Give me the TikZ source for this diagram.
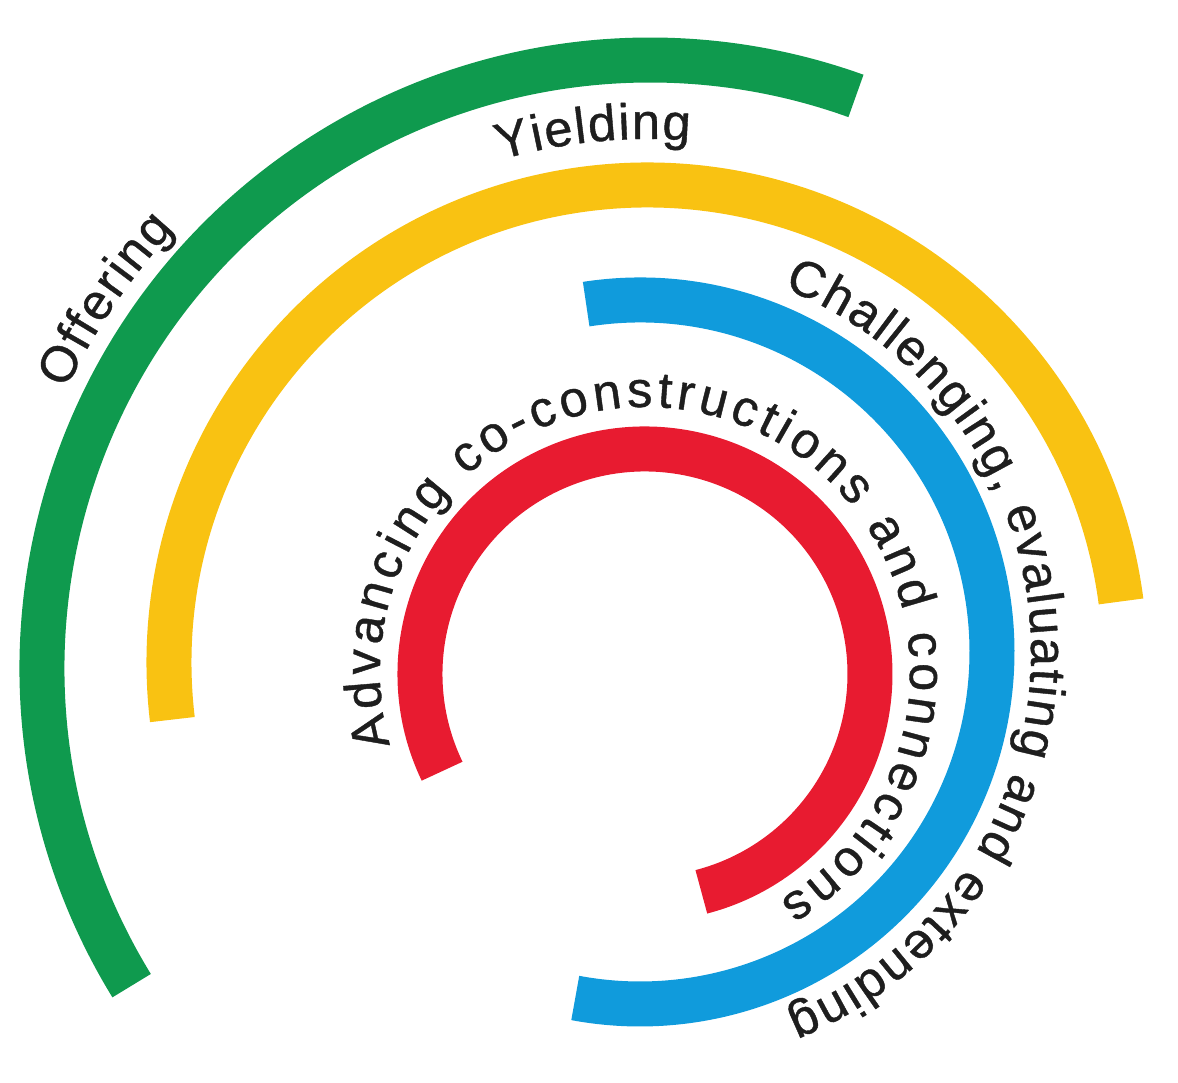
\documentclass[tikz,border=0pt]{standalone}
\usepackage{fontspec}
\setmainfont{Liberation Sans}[FakeBold=0.8]
\usetikzlibrary{decorations.text}

\definecolor{ringgreen}{HTML}{0F9A4E}
\definecolor{ringyellow}{HTML}{F9C212}
\definecolor{ringblue}{HTML}{109BDC}
\definecolor{ringred}{HTML}{E81B30}
\definecolor{ink}{HTML}{1E1E1E}
\newcommand\ringfont{\fontsize{14.4}{17}\selectfont\color{ink}}

\begin{document}
\begin{tikzpicture}[ring/.style={line width=0.45cm},
                    ringtext/.style={decorate,decoration={text along path,
                      text align=fit to path,text={|\ringfont|#1}}}]
  \useasboundingbox (0,0) rectangle (11.78,10.83);

  % centres of the rings
  \coordinate (cg) at (6.50,4.15);
  \coordinate (cy) at (6.47,4.20);
  \coordinate (cb) at (6.40,4.31);
  \coordinate (cr) at (6.45,4.09);
  \coordinate (ca) at (6.45,4.11);

  \draw[ring,ringgreen]  ([shift={(211.5:6.08)}]cg) arc[start angle=211.5,end angle=70.2,radius=6.08];
  \draw[ring,ringyellow] ([shift={(186.8:4.78)}]cy) arc[start angle=186.8,end angle=7.4,radius=4.78];
  \draw[ring,ringblue]   ([shift={(98.8:3.52)}]cb)  arc[start angle=98.8,end angle=-100.6,radius=3.52];
  \draw[ring,ringred]    ([shift={(205.6:2.25)}]cr) arc[start angle=205.6,end angle=-75.5,radius=2.25];

  \path[ringtext={Offering}] ([shift={(154.5:6.47)}]cg) arc[start angle=154.5,end angle=137.3,radius=6.47];
  \path[ringtext={Yielding}] ([shift={(106.3:5.24)}]cy) arc[start angle=106.3,end angle=85.3,radius=5.24];
  \path[ringtext={Challenging, evaluating and extending}]
        ([shift={(68.5:3.91)}]cb) arc[start angle=68.5,end angle=-68,radius=3.91];
  \path[ringtext={Advancing co-constructions and connections}]
        ([shift={(196:2.65)}]ca) arc[start angle=196,end angle=-59.5,radius=2.65];
\end{tikzpicture}
\end{document}
